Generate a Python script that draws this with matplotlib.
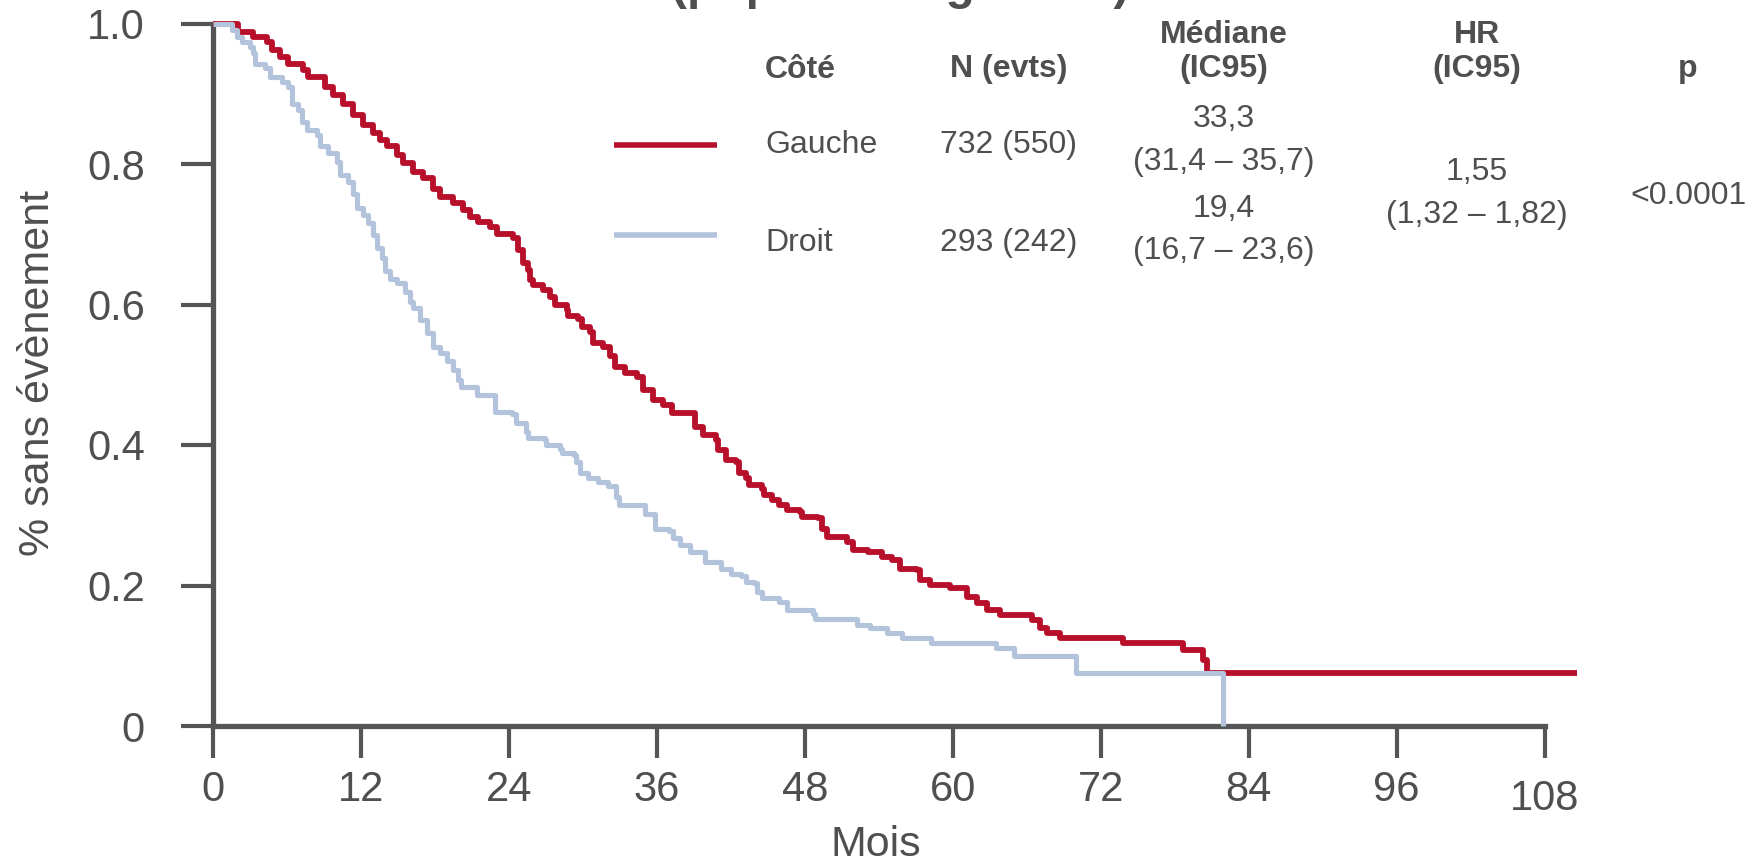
import matplotlib
matplotlib.use("Agg")
import matplotlib.pyplot as plt
from matplotlib.lines import Line2D

plt.rcParams["font.family"] = ["Liberation Sans", "DejaVu Sans"]

# Courbes de Kaplan-Meier (mois, survie sans évènement)
gauche_mois = [0, 2.05, 3.27, 4.36, 4.76, 5.43, 6.11, 7.32, 7.73, 9.08, 9.76, 10.57,
               11.38, 12.19, 13.0, 13.54, 14.09, 14.90, 15.43, 16.24, 17.06, 17.87,
               18.41, 19.49, 20.30, 20.84, 21.52, 22.47, 23.01, 24.36, 24.76, 25.17,
               25.57, 25.71, 25.98, 26.79, 27.33, 27.74, 28.69, 28.82, 29.63, 29.90,
               30.58, 30.84, 31.65, 32.20, 32.60, 33.41, 34.36, 34.90, 35.71, 36.52,
               37.20, 39.12, 39.74, 40.77, 40.98, 41.61, 42.42, 42.64, 43.25, 43.46,
               44.49, 44.70, 45.32, 45.94, 46.56, 47.60, 47.80, 49.09, 49.37, 49.77,
               51.39, 51.93, 53.15, 54.23, 55.04, 55.72, 57.07, 57.34, 58.15, 59.77,
               61.13, 61.94, 62.75, 63.83, 66.42, 67.07, 67.64, 68.69, 73.83, 78.67,
               80.32, 80.59, 110.6]
gauche_survie = [1.0, 0.988, 0.981, 0.974, 0.962, 0.953, 0.943, 0.934, 0.924, 0.910,
                 0.898, 0.886, 0.870, 0.856, 0.844, 0.834, 0.825, 0.813, 0.801, 0.789,
                 0.780, 0.765, 0.753, 0.744, 0.735, 0.725, 0.718, 0.711, 0.701, 0.694,
                 0.678, 0.659, 0.649, 0.635, 0.628, 0.621, 0.611, 0.599, 0.592, 0.583,
                 0.580, 0.568, 0.561, 0.545, 0.540, 0.526, 0.511, 0.502, 0.497, 0.478,
                 0.464, 0.457, 0.445, 0.426, 0.414, 0.407, 0.393, 0.379, 0.376, 0.360,
                 0.353, 0.343, 0.338, 0.329, 0.322, 0.315, 0.307, 0.305, 0.298, 0.296,
                 0.281, 0.269, 0.262, 0.251, 0.248, 0.241, 0.236, 0.224, 0.222, 0.208,
                 0.201, 0.196, 0.184, 0.175, 0.165, 0.158, 0.151, 0.139, 0.132, 0.125,
                 0.118, 0.108, 0.094, 0.076, 0.076]

droit_mois = [0, 1.52, 1.92, 2.33, 3.00, 3.27, 3.41, 4.22, 4.62, 5.57, 6.11, 6.38,
              6.92, 7.19, 7.60, 8.41, 8.68, 9.35, 10.03, 10.30, 10.97, 11.38, 11.65,
              12.19, 12.60, 13.00, 13.28, 13.68, 13.95, 14.36, 14.90, 15.57, 15.98,
              16.24, 16.79, 17.33, 17.87, 18.41, 18.95, 19.49, 19.87, 20.08, 21.41,
              22.87, 24.22, 24.57, 25.39, 25.55, 26.89, 27.01, 28.14, 28.30, 29.28,
              29.44, 29.76, 30.43, 31.22, 32.04, 32.70, 32.91, 35.04, 35.81, 36.98,
              37.31, 37.88, 38.69, 39.94, 41.18, 42.01, 42.84, 43.25, 43.88, 44.08,
              44.49, 45.94, 46.56, 48.64, 48.84, 52.23, 53.28, 54.66, 55.88, 58.23,
              63.54, 64.99, 69.95, 81.95]
droit_survie = [1.0, 0.991, 0.981, 0.974, 0.967, 0.958, 0.943, 0.936, 0.924, 0.917,
                0.910, 0.886, 0.877, 0.860, 0.848, 0.841, 0.825, 0.815, 0.803, 0.784,
                0.775, 0.758, 0.737, 0.727, 0.716, 0.699, 0.680, 0.666, 0.647, 0.637,
                0.630, 0.618, 0.604, 0.595, 0.578, 0.559, 0.540, 0.531, 0.519, 0.507,
                0.493, 0.483, 0.471, 0.447, 0.444, 0.431, 0.419, 0.410, 0.407, 0.400,
                0.395, 0.388, 0.386, 0.376, 0.360, 0.353, 0.347, 0.341, 0.326, 0.315,
                0.302, 0.281, 0.277, 0.268, 0.258, 0.248, 0.234, 0.224, 0.217, 0.213,
                0.205, 0.203, 0.191, 0.182, 0.177, 0.165, 0.160, 0.153, 0.144, 0.139,
                0.132, 0.125, 0.118, 0.111, 0.099, 0.076, 0.0]

x_ticks = [0, 12, 24, 36, 48, 60, 72, 84, 96, 108]
y_ticks = [0, 0.2, 0.4, 0.6, 0.8, 1.0]
y_tick_labels = ["0", "0.2", "0.4", "0.6", "0.8", "1.0"]

groupes = ["Gauche", "Droit"]
n_evts = ["732 (550)", "293 (242)"]
medianes = ["33,3", "19,4"]
medianes_ic = ["(31,4 – 35,7)", "(16,7 – 23,6)"]
hr = "1,55"
hr_ic = "(1,32 – 1,82)"
p_val = "<0.0001"

ROUGE = "#b80f2b"
BLEU = "#b3c3dc"
GRIS = "#555555"
TEXTE = "#4f4f4f"

W, H = 1762, 861
fig = plt.figure(figsize=(W / 100, H / 100), dpi=100)
ax = fig.add_axes([213 / W, 1 - 726 / H, 1381 / W, (726 - 23.5) / H])


def fx(x):
    return x / W


def fy(y):
    return 1 - y / H


ax.step(gauche_mois, gauche_survie, where="post", color=ROUGE, lw=4.2,
        solid_capstyle="butt", clip_on=False, zorder=3)
ax.step(droit_mois, droit_survie, where="post", color=BLEU, lw=3.7,
        solid_capstyle="butt", clip_on=False, zorder=4)

ax.set_xlim(0, 112)
ax.set_ylim(0, 1)
for s in ["top", "right"]:
    ax.spines[s].set_visible(False)
for s in ["left", "bottom"]:
    ax.spines[s].set_color(GRIS)
    ax.spines[s].set_linewidth(3.8)
ax.spines["bottom"].set_bounds(0, 108)
ax.spines["left"].set_bounds(0, 1)

ax.set_xticks(x_ticks)
ax.set_xticklabels([str(t) for t in x_ticks])
ax.set_yticks(y_ticks)
ax.set_yticklabels(y_tick_labels)
ax.tick_params(axis="both", direction="out", length=23, width=3.0, color=GRIS,
               labelcolor=TEXTE, labelsize=30)
ax.tick_params(axis="x", pad=9)
ax.tick_params(axis="y", pad=26)
dernier = ax.xaxis.get_major_ticks()[-1]
dernier.tick1line.set_markersize(26)
dernier.set_pad(15.5)

fig.text(fx(38), fy(373), "% sans évènement", rotation=90, ha="center",
         va="center", fontsize=31, color=TEXTE)
fig.text(fx(876), fy(845), "Mois", ha="center", va="center", fontsize=31,
         color=TEXTE)

# titre (coupé par le bord haut)
fig.text(fx(900), fy(-1), "(population globale)", ha="center", va="baseline",
         fontsize=34.5, fontweight="bold", color=TEXTE)

# tableau de légende
fs = 23
entete = dict(ha="center", va="baseline", fontsize=fs, fontweight="bold", color=TEXTE)
fig.text(fx(765), fy(77.5), "Côté", **{**entete, "ha": "left"})
fig.text(fx(1009), fy(77.5), "N (evts)", **entete)
fig.text(fx(1224), fy(42.7), "Médiane", **entete)
fig.text(fx(1224), fy(77.5), "(IC95)", **entete)
fig.text(fx(1477), fy(42.7), "HR", **entete)
fig.text(fx(1477), fy(77.5), "(IC95)", **entete)
fig.text(fx(1688), fy(77.5), "p", **entete)

corps = dict(ha="center", va="baseline", fontsize=fs, color=TEXTE)
lignes_y = [145, 235]
base_y = [152.8, 250.6]
med_y = [(127, 169.7), (216.9, 258.5)]
for i, couleur in enumerate([ROUGE, BLEU]):
    fig.add_artist(Line2D([fx(614), fx(717)], [fy(lignes_y[i])] * 2, color=couleur,
                          lw=4.0, solid_capstyle="butt"))
    fig.text(fx(765), fy(base_y[i]), groupes[i], **{**corps, "ha": "left"})
    fig.text(fx(1009), fy(base_y[i]), n_evts[i], **corps)
    fig.text(fx(1224), fy(med_y[i][0]), medianes[i], **corps)
    fig.text(fx(1224), fy(med_y[i][1]), medianes_ic[i], **corps)

fig.text(fx(1477), fy(179.8), hr, **corps)
fig.text(fx(1477), fy(222.5), hr_ic, **corps)
fig.text(fx(1688), fy(204.5), p_val, **corps)

fig.savefig("out.png", dpi=100)
